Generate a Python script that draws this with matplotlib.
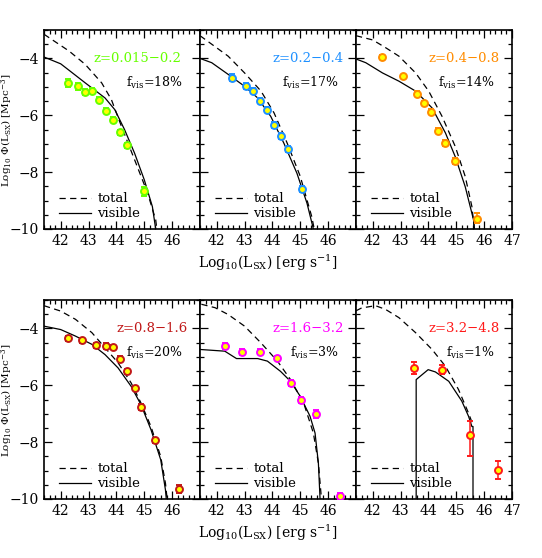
import numpy as np
import matplotlib
matplotlib.use('Agg')
import matplotlib.pyplot as plt
from matplotlib.ticker import MultipleLocator

plt.rcParams['font.family'] = ['DejaVu Serif']
plt.rcParams['mathtext.fontset'] = 'dejavuserif'

# panel texts and colours
z_labels = ['z=0.015\u22120.2', 'z=0.2\u22120.4', 'z=0.4\u22120.8',
            'z=0.8\u22121.6', 'z=1.6\u22123.2', 'z=3.2\u22124.8']
fvis = ['18%', '17%', '14%', '20%', '3%', '1%']
colors = ['#66ff00', '#1e90ff', '#ff8c00', '#c01818', '#ff00ff', '#ff1a1a']

# data points (log L, log phi, error)
pts_x = [
    [42.26, 42.62, 42.88, 43.12, 43.38, 43.62, 43.88, 44.12, 44.38, 45.0],
    [42.56, 43.04, 43.29, 43.55, 43.8, 44.04, 44.29, 44.56, 45.06],
    [42.32, 43.1, 43.6, 43.85, 44.11, 44.35, 44.61, 44.96, 45.76],
    [42.26, 42.76, 43.27, 43.62, 43.88, 44.12, 44.38, 44.65, 44.88, 45.38, 46.26],
    [42.29, 42.92, 43.55, 44.18, 44.68, 45.04, 45.55, 46.44],
    [43.48, 44.49, 45.5, 46.51],
]
pts_y = [
    [-4.86, -4.98, -5.18, -5.13, -5.45, -5.84, -6.15, -6.6, -7.06, -8.68],
    [-4.68, -4.98, -5.13, -5.48, -5.8, -6.33, -6.72, -7.19, -8.59],
    [-3.94, -4.62, -5.24, -5.56, -5.87, -6.54, -6.98, -7.62, -9.65],
    [-4.35, -4.42, -4.6, -4.62, -4.66, -5.06, -5.51, -6.09, -6.76, -7.94, -9.65],
    [-4.62, -4.82, -4.82, -5.04, -5.92, -6.51, -7.01, -9.9],
    [-5.39, -5.45, -7.74, -8.98],
]
err_lo = [
    [0.15, 0.12, 0.1, 0.08, 0.08, 0.08, 0.08, 0.08, 0.08, 0.15],
    [0.12, 0.1, 0.08, 0.08, 0.08, 0.1, 0.1, 0.1, 0.1],
    [0.05, 0.05, 0.08, 0.08, 0.08, 0.1, 0.1, 0.1, 0.15],
    [0.1, 0.08, 0.08, 0.1, 0.08, 0.08, 0.08, 0.08, 0.1, 0.1, 0.15],
    [0.12, 0.1, 0.08, 0.08, 0.1, 0.1, 0.15, 0.1],
    [0.2, 0.15, 0.75, 0.3],
]
err_hi = [
    [0.15, 0.12, 0.1, 0.08, 0.08, 0.08, 0.08, 0.08, 0.08, 0.15],
    [0.12, 0.1, 0.08, 0.08, 0.08, 0.1, 0.1, 0.1, 0.1],
    [0.05, 0.05, 0.08, 0.08, 0.08, 0.1, 0.1, 0.1, 0.22],
    [0.1, 0.08, 0.08, 0.1, 0.08, 0.08, 0.08, 0.08, 0.1, 0.1, 0.15],
    [0.12, 0.1, 0.08, 0.08, 0.1, 0.1, 0.15, 0.1],
    [0.2, 0.15, 0.47, 0.3],
]

# model curves
tot_x = [
    [41.4, 42.3, 42.88, 43.47, 43.82, 44.18, 44.65, 45.12, 45.41, 45.45],
    [41.4, 42.41, 43.0, 43.59, 44.06, 44.53, 45.0, 45.41, 45.5],
    [41.4, 42.0, 42.46, 42.94, 43.54, 44.01, 44.49, 44.96, 45.32, 45.56, 45.65],
    [41.4, 42.0, 42.53, 43.12, 43.59, 44.06, 44.53, 44.88, 45.24, 45.59, 45.76, 45.82],
    [41.45, 41.94, 42.41, 43.0, 43.59, 44.18, 44.65, 45.12, 45.47, 45.65, 45.76],
    [41.4, 41.6, 42.1, 42.46, 42.94, 43.54, 44.13, 44.61, 45.08, 45.44, 45.6],
]
tot_y = [
    [-3.15, -3.74, -4.21, -4.86, -5.45, -6.39, -7.56, -8.74, -9.68, -10.0],
    [-3.2, -3.92, -4.51, -5.15, -5.92, -6.98, -8.15, -9.56, -10.0],
    [-3.2, -3.35, -3.62, -3.92, -4.51, -5.15, -6.04, -7.09, -8.15, -9.21, -10.0],
    [-3.2, -3.39, -3.68, -4.15, -4.68, -5.21, -5.92, -6.62, -7.45, -8.51, -9.45, -10.0],
    [-3.15, -3.27, -3.51, -3.92, -4.51, -5.15, -5.8, -6.62, -7.68, -8.74, -10.0],
    [-3.38, -3.28, -3.2, -3.33, -3.62, -4.15, -4.74, -5.33, -6.15, -6.98, -7.4],
]
vis_x = [
    [41.4, 42.0, 42.29, 42.88, 43.59, 43.94, 44.29, 44.65, 45.0, 45.29, 45.41],
    [41.4, 41.82, 42.41, 43.0, 43.47, 43.94, 44.41, 44.88, 45.24, 45.47],
    [41.4, 41.75, 42.35, 42.94, 43.54, 44.13, 44.61, 44.96, 45.32, 45.62, 45.65],
    [41.4, 42.0, 42.53, 43.12, 43.59, 44.06, 44.53, 44.88, 45.24, 45.59, 45.76, 45.79],
    [41.4, 42.29, 42.71, 43.47, 43.82, 44.29, 44.65, 45.0, 45.35, 45.53, 45.65, 45.71],
    [43.56, 43.56, 43.99, 44.25, 44.73, 45.2, 45.44, 45.56, 45.6, 45.6],
]
vis_y = [
    [-3.95, -4.19, -4.41, -4.86, -5.39, -5.8, -6.5, -7.33, -8.27, -9.21, -10.0],
    [-4.0, -4.15, -4.56, -4.98, -5.39, -6.04, -6.98, -8.04, -9.09, -10.0],
    [-4.02, -4.15, -4.51, -4.8, -5.15, -5.74, -6.62, -7.45, -8.51, -9.68, -10.0],
    [-3.92, -4.04, -4.27, -4.56, -4.92, -5.39, -6.04, -6.68, -7.56, -8.62, -9.68, -10.0],
    [-4.74, -4.8, -5.06, -5.06, -5.15, -5.51, -5.86, -6.39, -7.09, -7.68, -8.74, -10.0],
    [-10.0, -5.8, -5.45, -5.53, -5.86, -6.56, -7.09, -7.45, -7.45, -10.0],
]

W, H = 542, 558
fig = plt.figure(figsize=(W / 100, H / 100), dpi=100)

lefts = [44, 200, 356]
tops = [30, 300]
pw, ph = 156, 199

for i in range(6):
    r, c = divmod(i, 3)
    ax = fig.add_axes([lefts[c] / W, 1 - (tops[r] + ph) / H, pw / W, ph / H])
    col = colors[i]

    l1, = ax.plot(tot_x[i], tot_y[i], color='black', lw=0.9, ls=(0, (5, 3.5)))
    l2, = ax.plot(vis_x[i], vis_y[i], color='black', lw=0.9)
    ax.errorbar(pts_x[i], pts_y[i], yerr=[err_lo[i], err_hi[i]], fmt='o',
                ms=5, mfc='#ffff00', mec=col, mew=1.4, ecolor=col,
                elinewidth=1.1, capsize=2.5, capthick=1.1, zorder=5)

    ax.xaxis.set_major_locator(MultipleLocator(1))
    ax.xaxis.set_minor_locator(MultipleLocator(0.2))
    ax.yaxis.set_major_locator(MultipleLocator(2))
    ax.yaxis.set_minor_locator(MultipleLocator(0.5))
    ax.tick_params(which='both', direction='in', top=True, right=True,
                   labelsize=10, width=0.9)
    ax.tick_params(which='major', length=6)
    ax.tick_params(which='minor', length=3)
    for s in ax.spines.values():
        s.set_linewidth(1.2)

    if c == 2:
        ax.set_xticks([42, 43, 44, 45, 46, 47])
        ax.set_xticklabels(['42', '43', '44', '45', '46', '47'])
    else:
        ax.set_xticks([42, 43, 44, 45, 46])
        ax.set_xticklabels(['42', '43', '44', '45', '46'])
    ax.set_xlim(41.4, 47)

    ax.set_yticks([-4, -6, -8, -10])
    if c == 0:
        ax.set_yticklabels(['\u22124', '\u22126', '\u22128', '\u221210'])
    else:
        ax.set_yticklabels([])
    ax.set_ylim(-10, -3)

    zx = 0.88 if i == 0 else 0.92
    ax.text(zx, 0.857, z_labels[i], transform=ax.transAxes, ha='right',
            va='center', color=col, fontsize=9.5)
    ax.text(0.89, 0.735, r'f$_{\rm vis}$=' + fvis[i],
            transform=ax.transAxes, ha='right', va='center', color='black',
            fontsize=9)

    ax.legend([l1, l2], ['total', 'visible'], loc='lower left',
              bbox_to_anchor=(0.08, 0.03), frameon=False, fontsize=9.5,
              handlelength=2.4, handletextpad=0.5, labelspacing=0.15,
              borderpad=0.2, borderaxespad=0)

xlab = r'Log$_{10}$(L$_{\rm SX}$) [erg s$^{-1}$]'
fig.text(268 / W, 1 - 263 / H, xlab, ha='center', va='center', fontsize=10)
fig.text(268 / W, 1 - 533 / H, xlab, ha='center', va='center', fontsize=10)

ylab = r'Log$_{10}$ $\Phi$(L$_{\rm SX}$) [Mpc$^{-3}$]'
fig.text(7 / W, 1 - 130 / H, ylab, rotation=90, ha='center', va='center',
         fontsize=7.5)
fig.text(7 / W, 1 - 400 / H, ylab, rotation=90, ha='center', va='center',
         fontsize=7.5)

fig.savefig('out.png', dpi=100)
